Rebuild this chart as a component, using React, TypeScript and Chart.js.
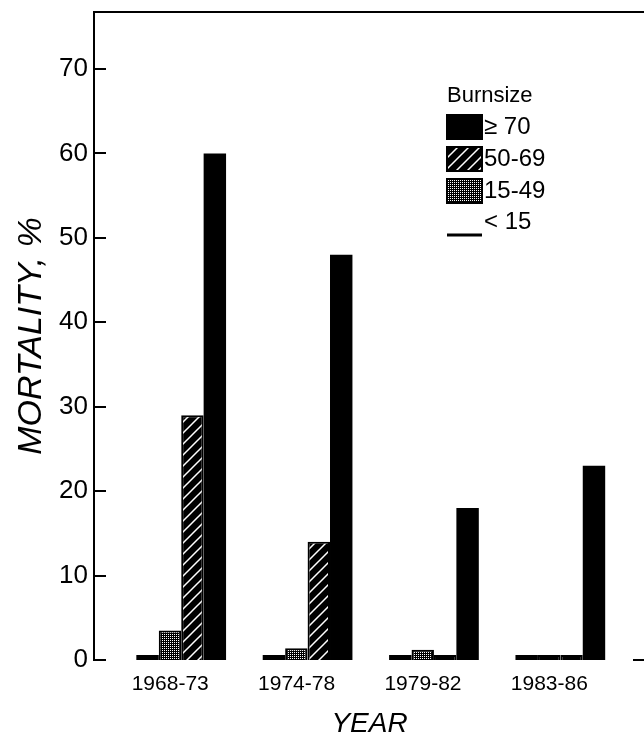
import React, { useEffect, useRef } from "react";
import { Chart, registerables } from "chart.js";

Chart.register(...registerables);

// ---- data ----
const YEARS = ["1968-73", "1974-78", "1979-82", "1983-86"];
const UNDER_15 = [0, 0, 0, 0];
const BURN_15_49 = [3.5, 1.4, 1.2, 0];
const BURN_50_69 = [29, 14, 0, 0];
const BURN_70_UP = [60, 48, 18, 23];
const Y_TICKS = [0, 10, 20, 30, 40, 50, 60, 70];
const LEGEND_TITLE = "Burnsize";
const SERIES_LABELS = ["< 15", "15-49", "50-69", "\u2265 70"];

const FONT = "'Liberation Sans', Arial, sans-serif";

function makeHatch(): CanvasPattern | string {
  const c = document.createElement("canvas");
  c.width = 11;
  c.height = 11;
  const g = c.getContext("2d");
  if (!g) return "#000";
  g.fillStyle = "#000";
  g.fillRect(0, 0, 11, 11);
  g.strokeStyle = "#fff";
  g.lineWidth = 1.5;
  g.beginPath();
  g.moveTo(-1, 12);
  g.lineTo(12, -1);
  g.moveTo(-6.5, 6.5);
  g.lineTo(6.5, -6.5);
  g.moveTo(4.5, 17.5);
  g.lineTo(17.5, 4.5);
  g.stroke();
  return g.createPattern(c, "repeat") || "#000";
}

function makeDots(): CanvasPattern | string {
  const c = document.createElement("canvas");
  c.width = 2;
  c.height = 2;
  const g = c.getContext("2d");
  if (!g) return "#555";
  g.fillStyle = "#000";
  g.fillRect(0, 0, 2, 2);
  g.fillStyle = "#fff";
  g.fillRect(0, 0, 1, 1);
  return g.createPattern(c, "repeat") || "#555";
}

export default function App() {
  const ref = useRef<HTMLCanvasElement | null>(null);

  useEffect(() => {
    const canvas = ref.current;
    if (!canvas) return;
    const hatch = makeHatch();
    const dots = makeDots();
    const fills = ["#000", dots, hatch, "#000"];
    const seriesValues = [UNDER_15, BURN_15_49, BURN_50_69, BURN_70_UP];

    const framePlugin = {
      id: "frame",
      afterDraw(chart: any) {
        const { ctx, chartArea } = chart;
        const { left, right, top } = chartArea;
        const y = chart.scales.y;
        ctx.save();
        ctx.strokeStyle = "#000";
        ctx.lineWidth = 2;
        ctx.beginPath();
        ctx.moveTo(left - 1, top);
        ctx.lineTo(right + 1, top);
        ctx.moveTo(right, top);
        ctx.lineTo(right, y.getPixelForValue(0));
        y.ticks.forEach((t: any) => {
          const py = Math.round(y.getPixelForValue(t.value));
          ctx.moveTo(left, py);
          ctx.lineTo(left + 12, py);
        });
        const p0 = Math.round(y.getPixelForValue(0));
        ctx.moveTo(right - 12, p0);
        ctx.lineTo(right, p0);
        ctx.stroke();

        // legend
        const lx = 447;
        const bw = 35;
        const bh = 24;
        ctx.fillStyle = "#000";
        ctx.textBaseline = "middle";
        ctx.textAlign = "left";
        ctx.font = `22px ${FONT}`;
        ctx.fillText(LEGEND_TITLE, 447, 96);
        const rows = [127, 159, 191, 222];
        const order = [3, 2, 1, 0];
        ctx.font = `24px ${FONT}`;
        order.forEach((di, r) => {
          const cy = rows[r];
          if (di === 0) {
            ctx.lineWidth = 3;
            ctx.beginPath();
            ctx.moveTo(lx, cy + 13);
            ctx.lineTo(lx + bw, cy + 13);
            ctx.stroke();
          } else {
            ctx.fillStyle = fills[di] as any;
            ctx.fillRect(lx, cy - bh / 2, bw, bh);
            ctx.lineWidth = 2;
            ctx.strokeStyle = "#000";
            ctx.strokeRect(lx, cy - bh / 2, bw, bh);
          }
          ctx.fillStyle = "#000";
          ctx.fillText(chart.data.datasets[di].label, lx + bw + 2, cy);
        });
        ctx.restore();
      },
    };

    const chart = new Chart(canvas, {
      type: "bar",
      data: {
        datasets: seriesValues.map((vals, di) => ({
          label: SERIES_LABELS[di],
          data: vals.map((v, i) => ({ x: i, y: v })),
          backgroundColor: (c: any) =>
            c.raw && c.raw.y === 0 ? "#000" : (fills[di] as any),
          borderColor: "#000",
          borderWidth: di === 1 || di === 2 ? 2 : 0,
          categoryPercentage: 0.71,
          barPercentage: 1.0,
          minBarLength: 5,
        })),
      },
      options: {
        animation: false,
        responsive: false,
        devicePixelRatio: 1,
        layout: { padding: { top: 12, right: 1, bottom: 0, left: 0 } },
        plugins: {
          legend: { display: false },
          tooltip: { enabled: false },
        },
        scales: {
          x: {
            type: "linear",
            offset: false,
            min: -0.69,
            max: 3.67,
            grid: { display: false, drawTicks: false },
            border: { display: false },
            afterBuildTicks: (s: any) => {
              s.ticks = YEARS.map((_, i) => ({ value: i }));
            },
            afterFit: (s: any) => {
              s.height = 81;
              s.paddingLeft = 0;
              s.paddingRight = 0;
            },
            ticks: {
              autoSkip: false,
              maxRotation: 0,
              minRotation: 0,
              padding: 12,
              labelOffset: -11,
              color: "#000",
              font: { family: FONT, size: 21 },
              callback: (v: any) => YEARS[v as number] ?? "",
            },
            title: {
              display: true,
              text: "YEAR",
              color: "#000",
              font: { family: FONT, size: 28, style: "italic" },
              padding: { top: 0, bottom: 0 },
            },
          },
          y: {
            min: 0,
            max: 76.75,
            grid: { display: false, drawTicks: false },
            border: { display: true, color: "#000", width: 2 },
            afterBuildTicks: (s: any) => {
              s.ticks = Y_TICKS.map((v) => ({ value: v }));
            },
            afterFit: (s: any) => {
              s.width = 94;
              s.paddingTop = 0;
              s.paddingBottom = 0;
            },
            ticks: {
              padding: 6,
              color: "#000",
              font: { family: FONT, size: 26 },
            },
            title: {
              display: true,
              text: "MORTALITY, %",
              color: "#000",
              font: { family: FONT, size: 34, style: "italic" },
              padding: { top: 11, bottom: 0 },
            },
          },
        },
      },
      plugins: [framePlugin],
    } as any);

    return () => chart.destroy();
  }, []);

  return (
    <div
      style={{
        position: "absolute",
        left: 0,
        top: 0,
        width: 644,
        height: 741,
        overflow: "hidden",
        background: "#fff",
      }}
    >
      <canvas ref={ref} width={646} height={741} style={{ display: "block" }} />
    </div>
  );
}
